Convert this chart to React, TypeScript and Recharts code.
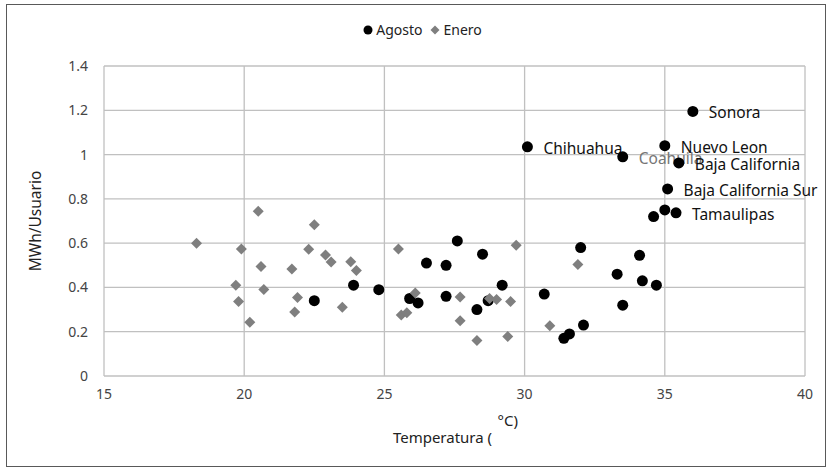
import { ScatterChart, Scatter, XAxis, YAxis, CartesianGrid, Label } from "recharts"

// Agosto (black circles)
const agostoTemp = [22.5, 23.9, 24.8, 25.9, 26.2, 26.5, 27.2, 27.2, 27.6, 28.3, 28.5, 28.7, 29.2, 30.1, 30.7, 31.4, 31.6, 32.0, 32.1, 33.3, 33.5, 33.5, 34.1, 34.2, 34.6, 34.7, 35.0, 35.0, 35.1, 35.4, 35.5, 36.0]
const agostoMwh = [0.34, 0.41, 0.39, 0.35, 0.33, 0.51, 0.5, 0.36, 0.61, 0.3, 0.55, 0.34, 0.41, 1.035, 0.37, 0.17, 0.19, 0.58, 0.23, 0.46, 0.99, 0.32, 0.545, 0.43, 0.72, 0.41, 1.04, 0.75, 0.845, 0.737, 0.962, 1.195]
const agostoLabels = ["", "", "", "", "", "", "", "", "", "", "", "", "", "Chihuahua", "", "", "", "", "", "", "Coahuila", "", "", "", "", "", "Nuevo Leon", "", "Baja California Sur", "Tamaulipas", "Baja California", "Sonora"]

// Enero (gray diamonds)
const eneroTemp = [18.3, 19.7, 19.8, 19.9, 20.2, 20.5, 20.6, 20.7, 21.7, 21.8, 21.9, 22.3, 22.5, 22.9, 23.1, 23.5, 23.8, 24.0, 25.5, 25.6, 25.8, 26.1, 27.7, 27.7, 28.3, 28.75, 29.0, 29.4, 29.5, 29.7, 30.9, 31.9]
const eneroMwh = [0.6, 0.41, 0.336, 0.574, 0.243, 0.744, 0.494, 0.391, 0.483, 0.289, 0.354, 0.572, 0.683, 0.547, 0.515, 0.31, 0.516, 0.476, 0.574, 0.276, 0.286, 0.375, 0.357, 0.25, 0.16, 0.35, 0.345, 0.178, 0.336, 0.59, 0.227, 0.503]

const xTicks = [15, 20, 25, 30, 35, 40]
const yTicks = [0, 0.2, 0.4, 0.6, 0.8, 1, 1.2, 1.4]

const agosto = agostoTemp.map((t, i) => ({ x: t, y: agostoMwh[i], label: agostoLabels[i] }))
const enero = eneroTemp.map((t, i) => ({ x: t, y: eneroMwh[i] }))

const FONT = "'Noto Sans', sans-serif"
const LABEL_COLORS: Record<string, string> = { Coahuila: "#767676" }

const Dot = (props: any) => {
  const { cx, cy, payload } = props
  return (
    <g>
      <circle cx={cx} cy={cy} r={5.5} fill="#000" />
      {payload.label ? (
        <text x={cx + 16} y={cy + 1} dominantBaseline="central" fontSize={15.5} fontFamily={FONT}
          fill={LABEL_COLORS[payload.label] ?? "#111"}>
          {payload.label}
        </text>
      ) : null}
    </g>
  )
}

const Diamond = (props: any) => {
  const { cx, cy } = props
  const r = 5.5
  return <path d={`M${cx},${cy - r}L${cx + r},${cy}L${cx},${cy + r}L${cx - r},${cy}Z`} fill="#7f7f7f" />
}

const LegendBox = () => (
  <div style={{ position: "absolute", top: 20, left: 9, width: 827, display: "flex", justifyContent: "center", alignItems: "center", fontFamily: FONT, fontSize: 14, color: "#222" }}>
    <svg width={10} height={10} style={{ marginRight: 3 }}><circle cx={5} cy={5} r={4.5} fill="#000" /></svg>
    <span style={{ marginRight: 8 }}>Agosto</span>
    <svg width={10} height={10} style={{ marginRight: 3 }}><path d="M5,0.5L9.5,5L5,9.5L0.5,5Z" fill="#7f7f7f" /></svg>
    <span>Enero</span>
  </div>
)

const XTitle = (props: any) => {
  const { viewBox } = props
  const cx = viewBox.x + viewBox.width / 2
  return (
    <g fontFamily={FONT} fontSize={15} fill="#222">
      <text x={cx + 43} y={420} dominantBaseline="central">°C)</text>
      <text x={cx - 12} y={437} textAnchor="middle" dominantBaseline="central">Temperatura (</text>
    </g>
  )
}

export default function App() {
  return (
    <div style={{ position: "absolute", left: 0, top: 0, width: 827, height: 468, background: "#fff" }}>
      <div style={{ position: "absolute", left: 6, top: 4, width: 818, height: 461, border: "1.5px solid #595959" }} />
      <LegendBox />
      <ScatterChart width={827} height={468} margin={{ top: 66, right: 22, bottom: 62, left: 44 }}>
        <CartesianGrid stroke="#c0c0c0" strokeWidth={1.3} />
        <XAxis type="number" dataKey="x" domain={[15, 40]} ticks={xTicks} axisLine={false} tickLine={false}
          tickMargin={7} height={30} tick={{ fill: "#444", fontSize: 14, fontFamily: FONT }}>
          <Label content={<XTitle />} />
        </XAxis>
        <YAxis type="number" dataKey="y" domain={[0, 1.4]} ticks={yTicks} axisLine={false} tickLine={false}
          tickMargin={10} width={60} tick={{ fill: "#444", fontSize: 14, fontFamily: FONT }}>
          <Label value="MWh/Usuario" angle={-90} position="insideLeft" offset={-9}
            style={{ fontFamily: FONT, fontSize: 15.5, fill: "#222", textAnchor: "middle" }} />
        </YAxis>
        <Scatter name="Agosto" data={agosto} shape={<Dot />} isAnimationActive={false} />
        <Scatter name="Enero" data={enero} shape={<Diamond />} isAnimationActive={false} />
      </ScatterChart>
    </div>
  )
}
